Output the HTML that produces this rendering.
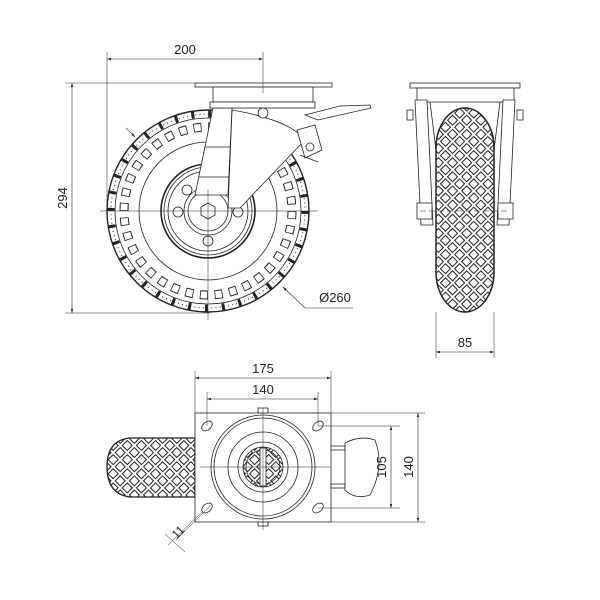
<!DOCTYPE html>
<html><head><meta charset="utf-8"><style>
html,body{margin:0;padding:0;background:#fff;}
svg{display:block;font-family:"Liberation Sans",sans-serif;}
</style></head><body>
<svg width="600" height="600" viewBox="0 0 600 600" xmlns="http://www.w3.org/2000/svg" fill="none" stroke="#222" stroke-width="0.8">
<defs>
<marker id="a" viewBox="0 0 10 10" refX="10" refY="5" markerWidth="7" markerHeight="7" orient="auto-start-reverse"><path d="M0,2 L10,5 L0,8 z" fill="#222" stroke="none"/></marker>
<pattern id="dia" width="10" height="10" patternUnits="userSpaceOnUse" patternTransform="rotate(45)"><rect x="1.5" y="1.5" width="7" height="7" fill="#fff" stroke="#222" stroke-width="1"/></pattern>
</defs>
<rect x="0" y="0" width="600" height="600" fill="#fff" stroke="none"/>
<!-- FRONT VIEW -->
<g>
<circle cx="208" cy="211" r="101" stroke-width="1.4"/>
<circle cx="208" cy="211" r="97" stroke-width="7" stroke-dasharray="3,13.93"/>
<circle cx="208" cy="211" r="97" stroke-width="1" stroke-dasharray="1,3.23"/>
<circle cx="208" cy="211" r="93"/>
<circle cx="208" cy="211" r="84" stroke-width="9" stroke-dasharray="8,6.66"/>
<circle cx="208" cy="211" r="84" stroke="#fff" stroke-width="7" stroke-dasharray="6.4,8.26" stroke-dashoffset="-0.8"/>
<circle cx="208" cy="211" r="69"/>
<circle cx="208" cy="211" r="47" stroke-width="1.6"/>
<circle cx="208" cy="211" r="44"/>
<circle cx="208" cy="211" r="40"/>
<circle cx="208" cy="211" r="24"/>
<circle cx="208" cy="211" r="20"/>
<circle cx="178" cy="212" r="5"/><circle cx="238" cy="212" r="5"/><circle cx="208" cy="241" r="5"/><circle cx="187" cy="190" r="5"/>
<path d="M232,110 Q290,120 305,140 L240,208 L228,208 Z" fill="#fff"/>
<path d="M213,108 L232,108 L228,195 L195,195 Z" fill="#fff"/>
<path d="M205,147 L230,147 M199,177 L229,177"/>
<polygon points="208,203 215,207 215,215 208,219 201,215 201,207" fill="#fff"/>
<rect x="195" y="83" width="137" height="4" fill="#fff"/>
<rect x="213" y="87" width="100" height="15" fill="#fff"/>
<rect x="210" y="102" width="105" height="6" fill="#fff"/>
<circle cx="263" cy="113" r="5" fill="#fff"/>
<path d="M305,115 L340,106 L370,105 L371,108 L318,120 Z" fill="#fff"/>
<path d="M297,130 L315,125 L322,150 L305,158 Z" fill="#fff"/>
<circle cx="310" cy="147" r="4"/><path d="M300,155 L318,162"/>
<path d="M100,211 L318,211 M208,190 L208,320" stroke-width="0.5"/>
<path d="M107,52 L107,211 M263,52 L263,93" stroke-width="0.5"/>
<path d="M107,59 L263,59" stroke-width="0.6" marker-start="url(#a)" marker-end="url(#a)"/>
<text x="185" y="54" font-size="13" fill="#222" stroke="none" text-anchor="middle">200</text>
<path d="M65,83 L195,83 M65,313 L210,313" stroke-width="0.5"/>
<path d="M72,83 L72,313" stroke-width="0.6" marker-start="url(#a)" marker-end="url(#a)"/>
<text transform="translate(67,198) rotate(-90)" font-size="13" fill="#222" stroke="none" text-anchor="middle">294</text>
<path d="M353,308 L305,308 L283,287" stroke-width="0.6" marker-end="url(#a)"/>
<path d="M126,128 L135,137" stroke-width="0.6" marker-end="url(#a)"/>
<text x="335" y="302" font-size="13" fill="#222" stroke="none" text-anchor="middle">Ø260</text>
</g>
<!-- SIDE VIEW -->
<g>
<rect x="436" y="108" width="58" height="204" rx="29" ry="40" fill="url(#dia)" stroke-width="1.5"/>
<rect x="410" y="83" width="110" height="5" fill="#fff"/>
<rect x="417" y="88" width="97" height="14" fill="#fff"/>
<path d="M415,100 L427,100 L433,225 L421,225 Z" fill="#fff"/>
<path d="M503,100 L515,100 L509,225 L497,225 Z" fill="#fff"/>
<path d="M430,102 L436,150 M500,102 L494,150"/>
<rect x="407" y="110" width="6" height="10" fill="#fff"/><rect x="517" y="110" width="6" height="10" fill="#fff"/>
<rect x="417" y="203" width="15" height="16" fill="#fff"/><rect x="498" y="203" width="15" height="16" fill="#fff"/>
<path d="M420,211 L510,211" stroke-dasharray="6,3" stroke-width="0.5"/>
<path d="M436,312 L436,358 M494,312 L494,358" stroke-width="0.5"/>
<path d="M436,352 L494,352" stroke-width="0.6" marker-start="url(#a)" marker-end="url(#a)"/>
<text x="465" y="347" font-size="13" fill="#222" stroke="none" text-anchor="middle">85</text>
</g>
<!-- BOTTOM VIEW -->
<g>
<path d="M195,438 L130,438 Q107,440 107,467 Q107,494 130,497 L195,497 Z" fill="url(#dia)" stroke-width="1.3"/>
<rect x="195" y="413" width="136" height="109" fill="#fff"/>
<circle cx="263" cy="467" r="52"/><circle cx="263" cy="467" r="49"/>
<circle cx="263" cy="467" r="35"/><circle cx="263" cy="467" r="25"/>
<circle cx="263" cy="467" r="20" fill="url(#dia)"/><circle cx="263" cy="467" r="17"/>
<rect x="260" y="448" width="6" height="38" fill="#fff"/>
<rect x="258" y="408" width="10" height="5" fill="#fff"/><rect x="258" y="522" width="10" height="4" fill="#fff"/>
<ellipse cx="207" cy="426" rx="6" ry="4" transform="rotate(-40 207 426)"/>
<ellipse cx="318" cy="426" rx="6" ry="4" transform="rotate(-40 318 426)"/>
<ellipse cx="207" cy="508" rx="6" ry="4" transform="rotate(-40 207 508)"/>
<ellipse cx="318" cy="508" rx="6" ry="4" transform="rotate(-40 318 508)"/>
<rect x="331" y="446" width="14" height="4" fill="#fff"/><rect x="331" y="484" width="14" height="4" fill="#fff"/>
<path d="M345,443 Q360,435 375,440 Q385,467 370,495 Q355,500 345,490 Z" fill="#fff"/>
<path d="M263,408 L263,530 M200,467 L330,467" stroke-width="0.5"/>
<path d="M195,371 L195,413 M331,371 L331,413 M207,392 L207,426 M318,392 L318,426" stroke-width="0.5"/>
<path d="M195,378 L331,378" stroke-width="0.6" marker-start="url(#a)" marker-end="url(#a)"/>
<path d="M207,399 L318,399" stroke-width="0.6" marker-start="url(#a)" marker-end="url(#a)"/>
<text x="263" y="373" font-size="13" fill="#222" stroke="none" text-anchor="middle">175</text>
<text x="263" y="394" font-size="13" fill="#222" stroke="none" text-anchor="middle">140</text>
<path d="M331,413 L425,413 M331,522 L425,522 M318,426 L400,426 M318,508 L400,508" stroke-width="0.5"/>
<path d="M391,426 L391,508" stroke-width="0.6" marker-start="url(#a)" marker-end="url(#a)"/>
<path d="M418,413 L418,522" stroke-width="0.6" marker-start="url(#a)" marker-end="url(#a)"/>
<text transform="translate(386,467) rotate(-90)" font-size="13" fill="#222" stroke="none" text-anchor="middle">105</text>
<text transform="translate(413,467) rotate(-90)" font-size="13" fill="#222" stroke="none" text-anchor="middle">140</text>
<path d="M203,511 L168,545 M211,505 L176,540 M165,534 L185,552" stroke-width="0.5"/>
<text transform="translate(181,535) rotate(-45)" font-size="12" fill="#222" stroke="none" text-anchor="middle">11</text>
</g>
</svg>
</body></html>
